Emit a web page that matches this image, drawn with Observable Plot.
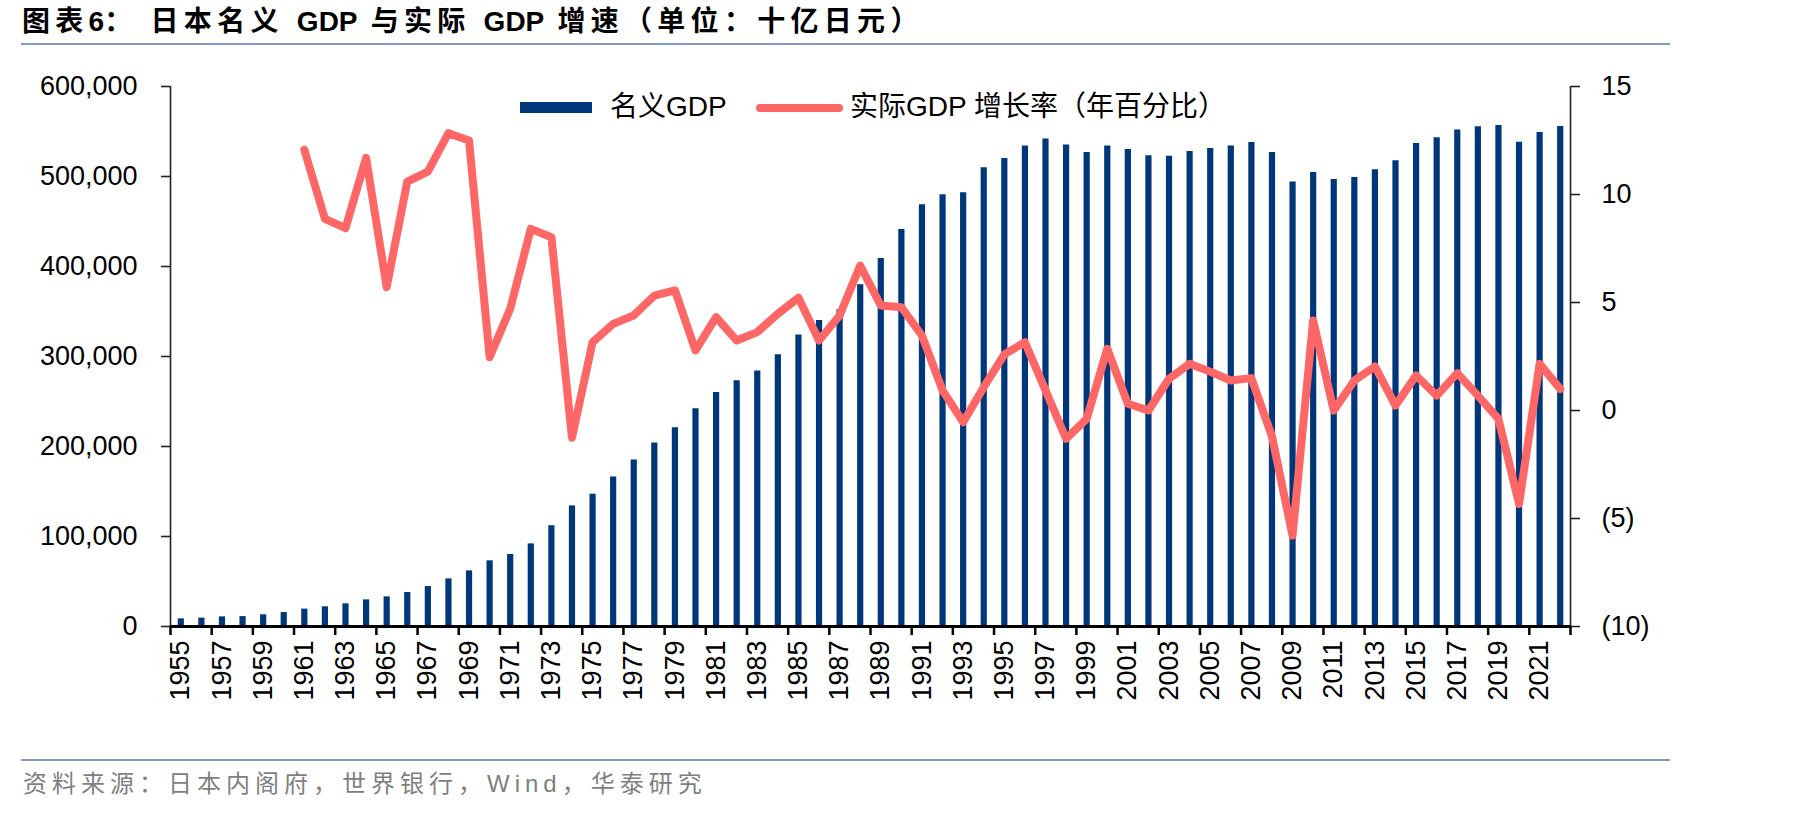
<!DOCTYPE html>
<html>
<head>
<meta charset="utf-8">
<script src="https://cdn.jsdelivr.net/npm/d3@7"></script>
<script src="https://cdn.jsdelivr.net/npm/@observablehq/plot@0.6"></script>
<style>
  html, body { margin: 0; padding: 0; background: #fff; }
  #page { position: relative; width: 1819px; height: 816px; overflow: hidden;
          font-family: "Liberation Sans", Arial, "Noto Sans CJK SC", sans-serif; }
  #chart { position: absolute; left: 0; top: 0; }
  .title { position: absolute; left: 22px; top: 8px; font-size: 28px; font-weight: bold;
           white-space: pre; color: #000; letter-spacing: 5.3px; line-height: 1; }
  .title .latin { letter-spacing: 0; }
  .rule { position: absolute; left: 21px; width: 1649px; height: 2px; background: #7f9bc6; }
  .legend-text { position: absolute; font-size: 28px; white-space: pre; color: #000; line-height: 1; }
  .source { position: absolute; left: 23px; top: 772px; font-size: 24px; color: #7f7f7f;
            white-space: pre; letter-spacing: 5px; line-height: 1; }
</style>
</head>
<body>
<div id="page">
  <div id="chart"></div>
  <div class="title">图表<span class="latin">6</span>： 日本名义 <span class="latin">GDP</span> 与实际 <span class="latin">GDP</span> 增速（单位：十亿日元）</div>
  <div class="rule" style="top:43px"></div>
  <div id="legend"></div>
  <div class="rule" style="top:759px"></div>
  <div class="source">资料来源：日本内阁府，世界银行，Wind，华泰研究</div>
</div>
<script>
// Years on the category axis
const years = [
  1955, 1956, 1957, 1958, 1959, 1960, 1961, 1962, 1963, 1964,
  1965, 1966, 1967, 1968, 1969, 1970, 1971, 1972, 1973, 1974,
  1975, 1976, 1977, 1978, 1979, 1980, 1981, 1982, 1983, 1984,
  1985, 1986, 1987, 1988, 1989, 1990, 1991, 1992, 1993, 1994,
  1995, 1996, 1997, 1998, 1999, 2000, 2001, 2002, 2003, 2004,
  2005, 2006, 2007, 2008, 2009, 2010, 2011, 2012, 2013, 2014,
  2015, 2016, 2017, 2018, 2019, 2020, 2021, 2022
];

// Nominal GDP, billion yen
const nominalGdp = [
  8500, 9300, 10700, 11000, 13000, 15500, 19300, 21900, 25200, 29600,
  32900, 37800, 44400, 52900, 61800, 73000, 80000, 91800, 112000, 134000,
  147000, 166000, 185000, 204000, 220700, 242000, 260000, 273000, 284000, 302000,
  324000, 340000, 352000, 379600, 409000, 441000, 468500, 479600, 482000, 509600,
  520000, 534000, 541800, 535000, 526700, 534000, 530000, 523000, 522600, 527800,
  531000, 534000, 537800, 526700, 494000, 504400, 496700, 498900, 507400, 517400,
  536700, 543000, 551800, 555200, 556700, 538000, 548900, 555600
];

// Real GDP growth, % per year (series starts in 1961)
const growthYears = [
  1961, 1962, 1963, 1964, 1965, 1966, 1967, 1968, 1969, 1970,
  1971, 1972, 1973, 1974, 1975, 1976, 1977, 1978, 1979, 1980,
  1981, 1982, 1983, 1984, 1985, 1986, 1987, 1988, 1989, 1990,
  1991, 1992, 1993, 1994, 1995, 1996, 1997, 1998, 1999, 2000,
  2001, 2002, 2003, 2004, 2005, 2006, 2007, 2008, 2009, 2010,
  2011, 2012, 2013, 2014, 2015, 2016, 2017, 2018, 2019, 2020,
  2021, 2022
];
const realGrowth = [
  12.07, 8.87, 8.44, 11.7, 5.71, 10.6, 11.06, 12.84, 12.5, 2.47,
  4.71, 8.41, 8.02, -1.26, 3.16, 4.01, 4.4, 5.32, 5.56, 2.78,
  4.32, 3.24, 3.63, 4.48, 5.22, 3.24, 4.4, 6.71, 4.86, 4.78,
  3.47, 0.93, -0.54, 1.08, 2.6, 3.16, 0.93, -1.31, -0.39, 2.86,
  0.31, 0.0, 1.47, 2.16, 1.8, 1.39, 1.5, -1.2, -5.79, 4.17,
  0.0, 1.39, 2.04, 0.23, 1.62, 0.69, 1.73, 0.69, -0.39, -4.32,
  2.16, 1.0
];

// Axis ticks
const leftTicks = [0, 100000, 200000, 300000, 400000, 500000, 600000];
const rightTickValues = [15, 10, 5, 0, -5, -10];
const rightTickLabels = ["15", "10", "5", "0", "(5)", "(10)"];
const yearLabels = [
  1955, 1957, 1959, 1961, 1963, 1965, 1967, 1969, 1971, 1973,
  1975, 1977, 1979, 1981, 1983, 1985, 1987, 1989, 1991, 1993,
  1995, 1997, 1999, 2001, 2003, 2005, 2007, 2009, 2011, 2013,
  2015, 2017, 2019, 2021
];

// Legend entries
const seriesNames = ["名义GDP", "实际GDP 增长率（年百分比）"];
const barColor = "#00377a";
const lineColor = "#ff6666";

// Tables built from the arrays above
const gdpRows = years.map((year, i) => ({year, gdp: nominalGdp[i]}));
const growthRows = growthYears.map((year, i) => ({year, growth: realGrowth[i]}));

// The growth series shares the left scale: -10..15 % maps onto 0..600,000
const gMin = -10, gMax = 15, yMax = 600000;
const toLeft = g => (g - gMin) / (gMax - gMin) * yMax;
const rightLabelOf = new Map(rightTickValues.map((v, i) => [toLeft(v), rightTickLabels[i]]));

// Category boundaries for the tick marks (between years, every second year, plus the end)
const boundaryTicks = yearLabels.map(y => y - 0.5).concat([years[years.length - 1] + 0.5]);

const axisFont = 27;

const chart = Plot.plot({
  width: 1819,
  height: 816,
  marginLeft: 170,
  marginRight: 249,
  marginTop: 86,
  marginBottom: 190,
  x: {type: "linear", domain: [years[0] - 0.5, years[years.length - 1] + 0.5]},
  y: {domain: [0, yMax]},
  style: {
    fontFamily: "'Liberation Sans', Arial, sans-serif",
    fontSize: axisFont + "px",
    color: "#000",
    background: "transparent",
    overflow: "visible"
  },
  marks: [
    // nominal GDP as narrow bars
    Plot.ruleX(gdpRows, {x: "year", y1: 0, y2: "gdp", stroke: barColor, strokeWidth: 6.2}),
    // real growth line on the right-hand scale
    Plot.line(growthRows, {
      x: "year", y: d => toLeft(d.growth),
      stroke: lineColor, strokeWidth: 8, strokeLinejoin: "round", strokeLinecap: "round"
    }),
    // axis lines
    Plot.ruleX([years[0] - 0.5], {stroke: "#222", strokeWidth: 1.6}),
    Plot.ruleX([years[years.length - 1] + 0.5], {stroke: "#222", strokeWidth: 1.6}),
    Plot.ruleY([0], {stroke: "#000", strokeWidth: 3}),
    // left axis
    Plot.axisY({
      anchor: "left", ticks: leftTicks, tickFormat: d3.format(","),
      tickSize: 9, tickPadding: 24, fontSize: axisFont, label: null,
      stroke: "#222", strokeWidth: 1.6
    }),
    // right axis
    Plot.axisY({
      anchor: "right", ticks: rightTickValues.map(toLeft),
      tickFormat: d => rightLabelOf.get(d),
      tickSize: 9, tickPadding: 22, fontSize: axisFont, label: null,
      stroke: "#222", strokeWidth: 1.6
    }),
    // x tick marks between categories
    Plot.axisX({
      ticks: boundaryTicks, tickFormat: () => "", tickSize: 9,
      stroke: "#000", strokeWidth: 2.5, label: null
    }),
    // rotated year labels
    Plot.axisX({
      ticks: yearLabels, tickFormat: d => String(d), tickSize: 0, tickPadding: 14,
      tickRotate: -90, fontSize: axisFont, label: null
    })
  ]
});
document.getElementById("chart").appendChild(chart);

// Legend drawn above the plot area
const legend = document.getElementById("legend");
legend.innerHTML = `
  <div style="position:absolute;left:520px;top:102px;width:72px;height:11px;background:${barColor}"></div>
  <div class="legend-text" style="left:610px;top:93px">${seriesNames[0]}</div>
  <div style="position:absolute;left:756px;top:104px;width:87px;height:8px;border-radius:4px;background:${lineColor}"></div>
  <div class="legend-text" style="left:850px;top:93px">${seriesNames[1]}</div>
`;
</script>
</body>
</html>
